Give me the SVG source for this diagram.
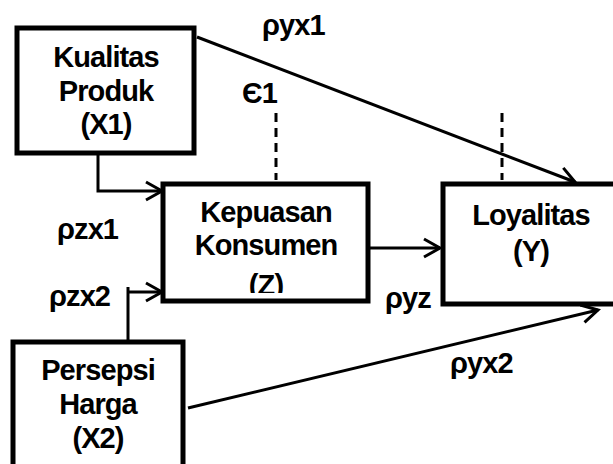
<svg xmlns="http://www.w3.org/2000/svg" width="613" height="464" viewBox="0 0 613 464">
<style>
.box{fill:#fff;stroke:#000;stroke-width:5}
.t{font-family:"Liberation Sans",Arial,sans-serif;font-weight:bold;font-size:29px;letter-spacing:-0.9px;fill:#000;text-anchor:middle}
.l{font-family:"Liberation Sans",Arial,sans-serif;font-weight:bold;font-size:29px;letter-spacing:-0.9px;fill:#000}
.c{fill:none;stroke:#000;stroke-width:3}
.d{fill:none;stroke:#000;stroke-width:3;stroke-dasharray:9,6}
</style>
<defs>
<marker id="a" markerWidth="22" markerHeight="22" refX="18" refY="11" orient="auto" markerUnits="userSpaceOnUse" viewBox="0 0 22 22">
<path d="M2,2 L18,11 L2,20" fill="none" stroke="#000" stroke-width="3"/>
</marker>
<clipPath id="zc"><rect x="160" y="180" width="210" height="113"/></clipPath>
</defs>
<g id="connectors">
<path class="c" d="M197,37 L575,182" marker-end="url(#a)"/>
<path class="c" d="M98,154 L98,191 L162,191" marker-end="url(#a)"/>
<path class="c" d="M128,341 L128,287 L128,292 L162,292" marker-end="url(#a)"/>
<path class="c" d="M368,248 L440,248" marker-end="url(#a)"/>
<path class="c" d="M188,408 L598,310" marker-end="url(#a)"/>
<path class="d" d="M276,113 L276,180"/>
<path class="d" d="M502,113 L502,180"/>
</g>
<g id="X1">
<rect class="box" x="17" y="28" width="177" height="125"/>
<text class="t" x="106" y="67">Kualitas</text>
<text class="t" x="106" y="101">Produk</text>
<text class="t" x="106" y="134">(X1)</text>
</g>
<g id="Z">
<rect class="box" x="163" y="184" width="205" height="117"/>
<g clip-path="url(#zc)">
<text class="t" x="266" y="222">Kepuasan</text>
<text class="t" x="266" y="255">Konsumen</text>
<text class="t" x="266" y="295">(Z)</text>
</g>
</g>
<g id="Y">
<rect class="box" x="443" y="184" width="180" height="120"/>
<text class="t" x="531" y="225">Loyalitas</text>
<text class="t" x="531" y="261">(Y)</text>
</g>
<g id="X2">
<rect class="box" x="13" y="342" width="170" height="130"/>
<text class="t" x="98" y="380">Persepsi</text>
<text class="t" x="98" y="414">Harga</text>
<text class="t" x="98" y="448">(X2)</text>
</g>
<g id="labels">
<text class="l" x="262" y="35">ρyx1</text>
<text class="l" x="242" y="103">Є1</text>
<text class="l" x="57" y="239">ρzx1</text>
<text class="l" x="49" y="306">ρzx2</text>
<text class="l" x="385" y="308">ρyz</text>
<text class="l" x="450" y="373">ρyx2</text>
</g>
</svg>
